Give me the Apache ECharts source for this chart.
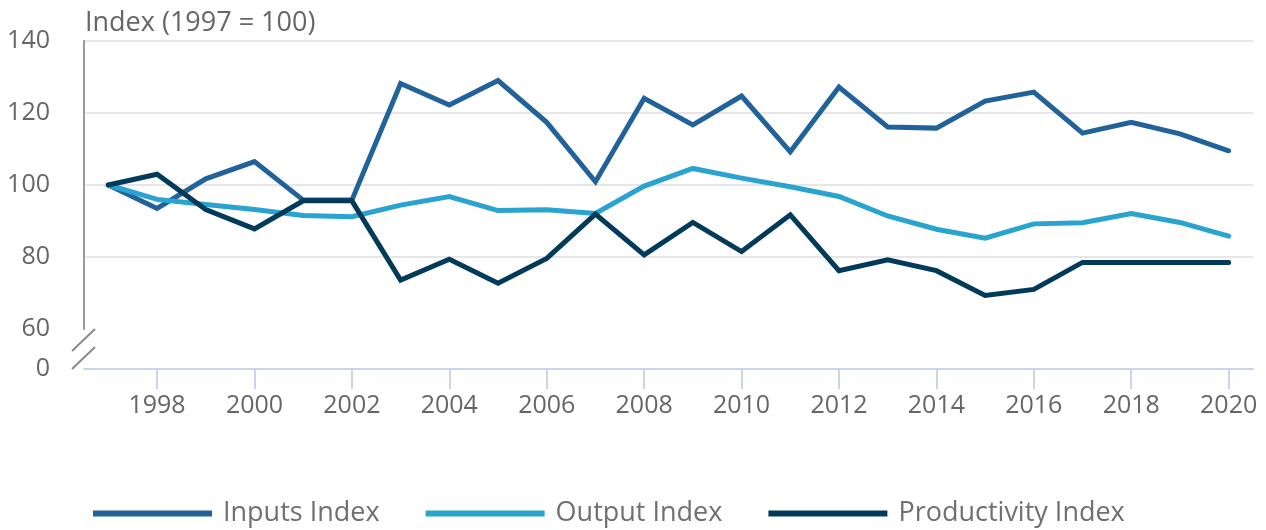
<!DOCTYPE html>
<html>
<head>
<meta charset="utf-8">
<script src="https://cdn.jsdelivr.net/npm/echarts@6/dist/echarts.min.js"></script>
<style>
html,body{margin:0;padding:0;background:#fff;}
#chart{width:1266px;height:530px;}
</style>
</head>
<body>
<div id="chart"></div>
<script>
const years = ['1997','1998','1999','2000','2001','2002','2003','2004','2005','2006','2007','2008','2009','2010','2011','2012','2013','2014','2015','2016','2017','2018','2019','2020'];
const inputsIndex = [100, 93.5, 101.7, 106.5, 95.8, 95.8, 128.2, 122.2, 129, 117.4, 100.9, 124.1, 116.7, 124.7, 109.2, 127.2, 116.1, 115.8, 123.3, 125.8, 114.4, 117.4, 114.2, 109.5];
const outputIndex = [100, 96, 94.6, 93.2, 91.5, 91.2, 94.4, 96.8, 92.9, 93.1, 92.1, 99.7, 104.6, 101.9, 99.5, 96.8, 91.4, 87.7, 85.2, 89.2, 89.5, 92.1, 89.6, 85.8];
const productivityIndex = [100, 103, 93.2, 87.8, 95.6, 95.6, 73.6, 79.4, 72.7, 79.6, 91.9, 80.6, 89.6, 81.5, 91.7, 76.2, 79.2, 76.2, 69.3, 71, 78.5, 78.5, 78.5, 78.5];
const yTicks = [0, 60, 80, 100, 120, 140];
const titleText = 'Index (1997 = 100)';

const FONT = '"Open Sans", sans-serif';
const chart = echarts.init(document.getElementById('chart'), null, {renderer: 'canvas'});

const evenYear = (idx, val) => Number(val) % 2 === 0;

const option = {
  animation: false,
  backgroundColor: '#ffffff',
  textStyle: {fontFamily: FONT},
  title: {
    text: titleText,
    left: 80,
    top: 5,
    textStyle: {fontFamily: FONT, fontSize: 27, fontWeight: 'normal', color: '#666666'}
  },
  legend: {
    left: 93,
    top: 500,
    padding: 0,
    itemWidth: 119,
    itemHeight: 6,
    itemGap: 46,
    icon: 'rect',
    textStyle: {fontFamily: FONT, fontSize: 27, color: '#707070', padding: [0, 0, 0, 6]},
    data: ['Inputs Index', 'Output Index', 'Productivity Index']
  },
  grid: {left: 84, right: 13, top: 41, bottom: 161, containLabel: false},
  xAxis: {
    type: 'category',
    data: years,
    boundaryGap: true,
    axisLine: {show: true, lineStyle: {color: '#c9d5ea', width: 2}},
    axisTick: {show: true, alignWithLabel: true, length: 20, interval: evenYear, lineStyle: {color: '#c9d5ea', width: 2}},
    axisLabel: {interval: evenYear, fontFamily: FONT, fontSize: 25, color: '#666666', margin: 24},
    splitLine: {show: false}
  },
  yAxis: {
    type: 'value',
    min: 0,
    max: 140,
    interval: 20,
    breaks: [{start: 0, end: 60, gap: '12.2%'}],
    breakArea: {show: false},
    axisLine: {show: true, lineStyle: {color: '#9a9a9a', width: 2}},
    axisTick: {show: false},
    axisLabel: {
      fontFamily: FONT, fontSize: 25, color: '#666666', margin: 34,
      formatter: v => (yTicks.indexOf(Math.round(v)) >= 0 ? String(Math.round(v)) : '')
    },
    splitLine: {show: true, lineStyle: {color: '#e6e6e6', width: 2}}
  },
  series: [
    {name: 'Inputs Index', type: 'line', data: inputsIndex, symbol: 'none', color: '#22629a',
     lineStyle: {width: 5, color: '#22629a', cap: 'round', join: 'miter'}},
    {name: 'Output Index', type: 'line', data: outputIndex, symbol: 'none', color: '#29a3cf',
     lineStyle: {width: 5, color: '#29a3cf', cap: 'round', join: 'miter'}},
    {name: 'Productivity Index', type: 'line', data: productivityIndex, symbol: 'none', color: '#013b59',
     lineStyle: {width: 5, color: '#013b59', cap: 'round', join: 'miter'}}
  ]
};
chart.setOption(option);

// draw axis-break marker "//" on the y-axis line
const p0 = chart.convertToPixel({gridIndex: 0}, [0, 0]);
const p60 = chart.convertToPixel({yAxisIndex: 0}, 60);
const axisX = 84;
const y0 = p0[1];
const mid = (y0 + p60) / 2;
const c1 = mid - 9, c2 = mid + 9;
chart.setOption({
  graphic: [
    {type: 'rect', z: 100, shape: {x: axisX - 3, y: c1 - 2, width: 6, height: c2 - c1 + 1}, style: {fill: '#ffffff'}},
    {type: 'line', z: 101, shape: {x1: axisX - 12, y1: c1 + 11, x2: axisX + 11, y2: c1 - 11}, style: {stroke: '#8a8a8a', lineWidth: 2}},
    {type: 'line', z: 101, shape: {x1: axisX - 12, y1: c2 + 11, x2: axisX + 11, y2: c2 - 11}, style: {stroke: '#8a8a8a', lineWidth: 2}}
  ]
});
</script>
</body>
</html>
